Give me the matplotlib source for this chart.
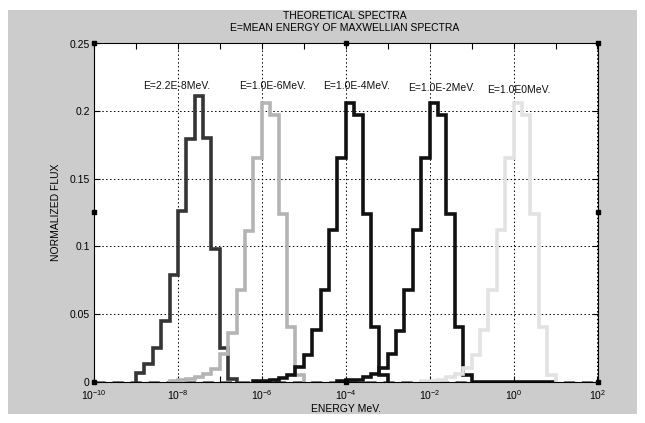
import numpy as np
import matplotlib
matplotlib.use("Agg")
import matplotlib.pyplot as plt
from matplotlib.patches import Rectangle
from matplotlib.ticker import FixedLocator, LogFormatterMathtext, NullFormatter

plt.rcParams['font.family'] = ['Liberation Sans', 'DejaVu Sans']
plt.rcParams['mathtext.fontset'] = 'custom'
plt.rcParams['mathtext.rm'] = 'Liberation Sans'
plt.rcParams['mathtext.it'] = 'Liberation Sans'
plt.rcParams['mathtext.default'] = 'regular'

# Histogram bins are 0.2 decade wide; each spectrum gives the exponent of its first bin edge.
BIN_WIDTH = 0.2

labels = ["E=2.2E-8MeV.", "E=1.0E-6MeV.", "E=1.0E-4MeV.", "E=1.0E-2MeV.", "E=1.0E0MeV."]

start_1 = -9.0
flux_1 = [0.006, 0.013, 0.025, 0.045, 0.079, 0.126, 0.179, 0.211, 0.180, 0.098, 0.025, 0.0016]

start_2 = -8.2
flux_2 = [0.0005, 0.0008, 0.0016, 0.0035, 0.0056, 0.0095, 0.020, 0.0356,
          0.068, 0.111, 0.165, 0.206, 0.197, 0.124, 0.0405, 0.005]

start_3 = -6.2
flux_3 = [0.0004, 0.0007, 0.0012, 0.0028, 0.0050, 0.011, 0.0196, 0.038,
          0.068, 0.112, 0.165, 0.206, 0.197, 0.124, 0.0405, 0.005]

start_4 = -4.2
flux_4 = [0.0004, 0.0008, 0.0013, 0.0030, 0.0055, 0.010, 0.020, 0.037,
          0.068, 0.112, 0.165, 0.206, 0.197, 0.124, 0.0405, 0.005,
          0, 0, 0, 0, 0, 0, 0, 0, 0, 0]

start_5 = -2.2
flux_5 = [0.0004, 0.0007, 0.0014, 0.0030, 0.0052, 0.010, 0.0196, 0.038,
          0.068, 0.112, 0.165, 0.206, 0.197, 0.124, 0.0405, 0.005]

spectra = [(start_1, flux_1), (start_2, flux_2), (start_3, flux_3),
           (start_4, flux_4), (start_5, flux_5)]
colors = ['#353535', '#b4b4b4', '#111111', '#111111', '#e2e2e2']

# label anchor points (exponent of energy, flux)
label_pos = [(-8.833, 0.2186), (-6.548, 0.2186), (-4.548, 0.2186),
             (-2.524, 0.2171), (-0.619, 0.2156)]

W, H = 645, 423
fig = plt.figure(figsize=(W / 100, H / 100), dpi=100, facecolor='white')
fig.patches.append(Rectangle((8 / W, 1 - 414 / H), 629 / W, 404 / H,
                             transform=fig.transFigure, facecolor='#cccccc',
                             edgecolor='none', zorder=-10))

ax = fig.add_axes([94 / W, 1 - 381.5 / H, 503.5 / W, 338 / H])
ax.set_zorder(1)
ax.set_facecolor('white')
ax.set_xscale('log')
ax.set_xlim(1e-10, 1e2)
ax.set_ylim(0, 0.25)

ax.xaxis.set_major_locator(FixedLocator([10.0 ** k for k in range(-10, 3, 2)]))
ax.xaxis.set_minor_locator(FixedLocator([10.0 ** k for k in range(-9, 2, 2)]))
ax.xaxis.set_major_formatter(LogFormatterMathtext())
ax.xaxis.set_minor_formatter(NullFormatter())
ax.set_yticks([0, 0.05, 0.1, 0.15, 0.2, 0.25])
ax.set_yticklabels(['0', '0.05', '0.1', '0.15', '0.2', '0.25'])

ax.tick_params(which='both', direction='in', top=True, right=True,
               length=4, width=0.8, labelsize=7.5, colors='black', pad=3)
ax.tick_params(axis='x', which='major', labelsize=7.5, pad=5)
for s in ax.spines.values():
    s.set_linewidth(0.8)

ax.grid(True, which='major', color='black', linestyle=(0, (1.5, 2.5)), linewidth=0.7)
ax.set_axisbelow(True)

# zero-level baseline shared by all spectra
ax.axhline(0, color='#707070', linewidth=2.0, linestyle=(0, (4, 2.5)), zorder=1.5)

for (start, flux), c in zip(spectra, colors):
    n = len(flux)
    edges = 10.0 ** (start + BIN_WIDTH * np.arange(n + 1))
    ax.stairs(flux, edges, color=c, linewidth=2.6, baseline=0, zorder=2)

for text, (lx, ly) in zip(labels, label_pos):
    ax.text(10.0 ** lx, ly, text, fontsize=7.5, ha='left', va='center', color='#111111')

fig.text(345 / W, 1 - 16 / H, "THEORETICAL SPECTRA", ha='center', va='center', fontsize=7.5)
fig.text(345 / W, 1 - 28 / H, "E=MEAN ENERGY OF MAXWELLIAN SPECTRA", ha='center', va='center', fontsize=7.5)
ax.set_xlabel("ENERGY MeV.", fontsize=7.5, labelpad=1)
ax.set_ylabel("NORMALIZED FLUX", fontsize=7.5, labelpad=6)

# selection handles on the axes frame
hx = [0, 0.5, 1, 0, 1, 0, 0.5, 1]
hy = [1, 1, 1, 0.5, 0.5, 0, 0, 0]
ax.plot(hx, hy, 's', color='black', markersize=3.5, transform=ax.transAxes,
        clip_on=False, zorder=5)

fig.savefig('out.png', dpi=100, facecolor='white')
